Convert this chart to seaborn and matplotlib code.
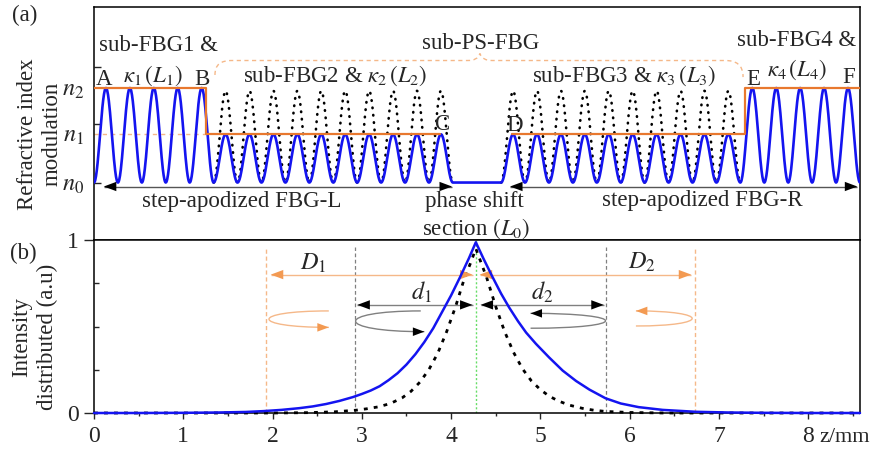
import numpy as np
import pandas as pd
import matplotlib
matplotlib.use("Agg")
import matplotlib.pyplot as plt
import seaborn as sns
from matplotlib.path import Path
from matplotlib.patches import PathPatch

# ---------------- data ----------------
# (a) step-apodized grating description
section_names = ["sub-FBG1", "sub-FBG2", "sub-FBG3", "sub-FBG4"]
section_periods = [5, 10, 10, 5]
section_blue_amp = [1.0, 0.51, 0.51, 1.0]       # apodized modulation (n2, n1, n1, n2)
section_dot_amp = [0.0, 0.97, 0.97, 0.0]        # uniform (unapodized) reference
grating_period = 0.268                          # mm (schematic)
phase_shift_len = 0.54                          # mm
n_levels = [0.0, 0.51, 1.0]
n_labels = [r"$n_0$", r"$n_1$", r"$n_2$"]

orange_left_z = [0.0, 1.254, 1.254, 3.88]
orange_left_n = [1.0, 1.0, 0.51, 0.51]
orange_right_z = [4.685, 7.295, 7.295, 8.58]
orange_right_n = [0.51, 0.51, 1.0, 1.0]

# (b) intensity distribution
blue_z = [0.0, 0.5, 1.0, 1.4, 1.7, 1.9, 2.1, 2.3, 2.45, 2.6, 2.75, 2.9, 3.0, 3.1,
          3.2, 3.3, 3.4, 3.5, 3.6, 3.7, 3.8, 3.9, 4.0, 4.1, 4.2, 4.277,
          4.36, 4.46, 4.56, 4.65, 4.75, 4.84, 4.95, 5.1, 5.25, 5.4, 5.55, 5.73,
          5.9, 6.1, 6.37, 6.74, 7.1, 7.5, 8.0, 8.58]
blue_I = [0.0, 0.0, 0.001, 0.003, 0.006, 0.011, 0.018, 0.028, 0.038, 0.052, 0.07, 0.092, 0.11, 0.13,
          0.155, 0.19, 0.23, 0.28, 0.34, 0.41, 0.49, 0.585, 0.68, 0.785, 0.895, 0.987,
          0.895, 0.79, 0.69, 0.61, 0.53, 0.465, 0.40, 0.32, 0.245, 0.185, 0.135, 0.085,
          0.055, 0.034, 0.018, 0.007, 0.003, 0.001, 0.0, 0.0]
dot_z = [0.0, 1.0, 2.0, 2.4, 2.7, 2.93, 3.05, 3.19, 3.32, 3.45, 3.55, 3.65, 3.75, 3.85,
         3.95, 4.05, 4.15, 4.22, 4.277,
         4.335, 4.40, 4.50, 4.60, 4.70, 4.80, 4.90, 5.0, 5.1, 5.2, 5.32, 5.47, 5.6, 5.73,
         6.0, 6.4, 7.0, 8.58]
dot_I = [0.0, 0.0, 0.0, 0.002, 0.007, 0.016, 0.024, 0.036, 0.055, 0.087, 0.125, 0.178, 0.25, 0.345,
         0.47, 0.615, 0.78, 0.87, 0.95,
         0.87, 0.78, 0.615, 0.47, 0.35, 0.255, 0.185, 0.135, 0.097, 0.07, 0.046, 0.027, 0.016, 0.009,
         0.003, 0.0, 0.0, 0.0]

center_z = 4.277
D_bounds = [1.93, 6.73]
d_bounds = [2.92, 5.73]
x_ticks = [0, 1, 2, 3, 4, 5, 6, 7, 8]

# ---------------- style ----------------
sns.set_theme(style="white")
plt.rcParams["font.family"] = ["Liberation Serif", "DejaVu Serif"]
plt.rcParams["mathtext.fontset"] = "stix"
plt.rcParams["axes.edgecolor"] = "black"
plt.rcParams["axes.linewidth"] = 1.1

BLUE = "#1414F0"
ORANGE = "#E8782E"
LORANGE = "#F5B889"
HORANGE = "#F39A52"
GRAY = "#808080"
FS = 16.5

W, H = 873, 453
fig = plt.figure(figsize=(W / 100, H / 100), dpi=100)
L, R = 94, 860
ax_top = fig.add_axes([L / W, 1 - 240 / H, (R - L) / W, (240 - 7.3) / H])
ax_bot = fig.add_axes([L / W, 1 - 413 / H, (R - L) / W, (413 - 240) / H])
XMAX = 8.58
for ax in (ax_top, ax_bot):
    ax.set_xlim(0, XMAX)
    for s in ax.spines.values():
        s.set_visible(True)
        s.set_color("black")
        s.set_linewidth(1.1)


def arrowhead(ax, tip, dx, color, ms=12, dy=0.0):
    ax.annotate("", xy=tip, xytext=(tip[0] - dx, tip[1] - dy),
                arrowprops=dict(arrowstyle="-|>,head_length=0.75,head_width=0.28",
                                color=color, lw=0, shrinkA=0, shrinkB=0,
                                mutation_scale=ms),
                annotation_clip=False)


def harrow(ax, x0, x1, y, line_color, head_color, lw=1.0, ms=12):
    ax.plot([x0, x1], [y, y], color=line_color, lw=lw, solid_capstyle="butt")
    arrowhead(ax, (x0, y), -0.05, head_color, ms)
    arrowhead(ax, (x1, y), 0.05, head_color, ms)


def loop(ax, start, tip_x, end, line_color, head_color):
    x0, y0 = start
    x3, y3 = end
    xc = (tip_x - 0.125 * (x0 + x3)) / 0.75
    path = Path([start, (xc, y0), (xc, y3), end],
                [Path.MOVETO, Path.CURVE4, Path.CURVE4, Path.CURVE4])
    ax.add_patch(PathPatch(path, fc="none", ec=line_color, lw=1.0))
    arrowhead(ax, end, 0.05 * np.sign(x3 - xc), head_color, ms=11)


# ---------------- (a) refractive index modulation ----------------
starts = []
z_cursor = 0.0
for i, npd in enumerate(section_periods):
    starts.append(z_cursor)
    z_cursor += npd * grating_period
    if i == 1:
        z_cursor += phase_shift_len

blue_parts_z, blue_parts_n = [], []
for i, (s, npd, a) in enumerate(zip(starts, section_periods, section_blue_amp)):
    z = np.linspace(s, s + npd * grating_period, 60 * npd)
    n = a * (1 - np.cos(2 * np.pi * (z - s) / grating_period)) / 2
    blue_parts_z.append(z)
    blue_parts_n.append(n)
    if i == 1:
        blue_parts_z.append(np.array([z[-1], starts[2]]))
        blue_parts_n.append(np.array([0.0, 0.0]))
wave = pd.DataFrame({"z": np.concatenate(blue_parts_z), "n": np.concatenate(blue_parts_n)})

for s, npd, a in zip(starts, section_periods, section_dot_amp):
    if a <= 0:
        continue
    z = np.linspace(s, s + npd * grating_period, 60 * npd)
    n = a * (1 - np.cos(2 * np.pi * (z - s) / grating_period)) / 2
    sns.lineplot(x=z, y=n, ax=ax_top, color="black", lw=1.9, linestyle=(0, (0.2, 2.6)),
                 dash_capstyle="round", estimator=None, sort=False, zorder=2)

sns.lineplot(data=wave, x="z", y="n", ax=ax_top, color=BLUE, lw=1.9,
             estimator=None, sort=False, zorder=3)
sns.lineplot(x=orange_left_z, y=orange_left_n, ax=ax_top, color=ORANGE, lw=1.6,
             estimator=None, sort=False, zorder=4)
sns.lineplot(x=orange_right_z, y=orange_right_n, ax=ax_top, color=ORANGE, lw=1.6,
             estimator=None, sort=False, zorder=4)
ax_top.plot([0, 1.254], [0.51, 0.51], color=LORANGE, lw=1.0, ls=(0, (3, 3)), zorder=1)

ax_top.set_ylim(-0.608, 1.854)
ax_top.set_xticks([])
ax_top.set_xlabel("")
ax_top.set_ylabel("")
ax_top.set_yticks(n_levels)
ax_top.set_yticklabels(n_labels, fontsize=17.5)
ax_top.tick_params(axis="y", which="major", length=0, pad=7)
ax_top.yaxis.remove_overlapping_locs = False
ax_top.set_yticks([0.0, 0.62, 1.22], minor=True)
ax_top.tick_params(axis="y", which="minor", direction="in", length=5, width=1, left=True)

# grating arrows
harrow(ax_top, 0.11, 4.01, -0.042, "#555555", "black")
harrow(ax_top, 4.66, 8.55, -0.042, "#555555", "black")

# dashed brace for sub-PS-FBG
bv = [(1.355, 1.138), (1.355, 1.25), (1.42, 1.291), (1.546, 1.291),
      (4.178, 1.291),
      (4.26, 1.291), (4.30, 1.31), (4.323, 1.365),
      (4.345, 1.31), (4.385, 1.291), (4.469, 1.291),
      (7.068, 1.291),
      (7.19, 1.291), (7.27, 1.25), (7.27, 1.116)]
bc = [Path.MOVETO, Path.CURVE4, Path.CURVE4, Path.CURVE4, Path.LINETO,
      Path.CURVE4, Path.CURVE4, Path.CURVE4, Path.CURVE4, Path.CURVE4, Path.CURVE4,
      Path.LINETO, Path.CURVE4, Path.CURVE4, Path.CURVE4]
ax_top.add_patch(PathPatch(Path(bv, bc), fc="none", ec=LORANGE, lw=1.0, ls=(0, (3, 2.5))))

top_texts = [
    ("sub-FBG1 &", 0.728, 1.455),
    (r"$\kappa_1\,(L_1)$", 0.661, 1.127),
    ("A", 0.112, 1.095),
    ("B", 1.21, 1.095),
    (r"sub-FBG2 & $\kappa_2\,(L_2)$", 2.70, 1.127),
    ("sub-PS-FBG", 4.335, 1.476),
    (r"sub-FBG3 & $\kappa_3\,(L_3)$", 5.936, 1.127),
    ("sub-FBG4 &", 7.874, 1.508),
    (r"$\kappa_4\,(L_4)$", 7.874, 1.19),
    ("E", 7.38, 1.095),
    ("F", 8.456, 1.106),
    ("C", 3.898, 0.619),
    ("D", 4.715, 0.608),
    ("step-apodized FBG-L", 1.658, -0.196),
    ("step-apodized FBG-R", 6.81, -0.185),
    ("phase shift", 4.256, -0.196),
    (r"section $(L_0)$", 4.279, -0.492),
]
for t, x, y in top_texts:
    ax_top.text(x, y, t, ha="center", va="center", fontsize=FS, zorder=6, clip_on=False)

# ---------------- (b) intensity distribution ----------------
for xv in D_bounds:
    ax_bot.plot([xv, xv], [0, 0.96], color=LORANGE, lw=1.0, ls=(0, (3, 2)), zorder=1)
for xv in d_bounds:
    ax_bot.plot([xv, xv], [0, 0.96], color=GRAY, lw=0.9, ls=(0, (3, 2)), zorder=1)
ax_bot.plot([center_z, center_z], [0, 1], color="#66DD66", lw=1.0, ls=(0, (1.5, 1.5)), zorder=1)

sns.lineplot(x=dot_z, y=dot_I, ax=ax_bot, color="black", lw=2.0, linestyle=(0, (1.4, 2.2)),
             estimator=None, sort=False, zorder=3, clip_on=False)
sns.lineplot(x=blue_z, y=blue_I, ax=ax_bot, color=BLUE, lw=1.8,
             estimator=None, sort=False, zorder=4, clip_on=False)

# D and d arrows
harrow(ax_bot, 1.98, 4.24, 0.80, LORANGE, HORANGE)
harrow(ax_bot, 4.32, 6.69, 0.80, LORANGE, HORANGE)
harrow(ax_bot, 2.95, 4.24, 0.625, GRAY, "black")
harrow(ax_bot, 4.33, 5.71, 0.625, GRAY, "black")

loop(ax_bot, (3.66, 0.59), 2.93, (3.70, 0.47), GRAY, "black")
loop(ax_bot, (4.89, 0.49), 5.73, (4.89, 0.576), GRAY, "black")
loop(ax_bot, (2.63, 0.59), 1.96, (2.63, 0.495), LORANGE, HORANGE)
loop(ax_bot, (6.07, 0.503), 6.70, (6.07, 0.59), LORANGE, HORANGE)

bot_texts = [
    (r"$D_1$", 2.453, 0.867),
    (r"$D_2$", 6.138, 0.873),
    (r"$d_1$", 3.67, 0.70),
    (r"$d_2$", 5.015, 0.70),
]
for t, x, y in bot_texts:
    ax_bot.text(x, y, t, ha="center", va="center", fontsize=FS + 1, zorder=6)

ax_bot.set_ylim(0, 1)
ax_bot.set_xlabel("")
ax_bot.set_ylabel("")
ax_bot.set_xticks(x_ticks)
ax_bot.set_xticklabels([str(v) for v in x_ticks], fontsize=17)
ax_bot.set_xticks(np.arange(0.5, 8.6, 1.0), minor=True)
ax_bot.set_yticks([0, 1])
ax_bot.set_yticklabels(["0", "1"], fontsize=17)
ax_bot.set_yticks([0.25, 0.5, 0.75], minor=True)
ax_bot.tick_params(axis="x", which="major", direction="out", length=4.5, width=1, pad=5, bottom=True)
ax_bot.tick_params(axis="x", which="minor", direction="out", length=2.5, width=1, bottom=True)
ax_bot.tick_params(axis="y", which="major", direction="out", length=7, width=1, pad=4, left=True)
ax_bot.tick_params(axis="y", which="minor", direction="in", length=3.5, width=1, left=True)
ax_bot.text(8.41, -0.139, "z/mm", ha="center", va="center", fontsize=16,
            transform=ax_bot.get_xaxis_transform(), clip_on=False)

# figure-level labels
fig.text(25 / W, 1 - 15 / H, "(a)", ha="center", va="center", fontsize=FS)
fig.text(23 / W, 1 - 253 / H, "(b)", ha="center", va="center", fontsize=FS)
fig.text(40 / W, 1 - 134 / H, "Refractive index\nmodulation", rotation=90,
         ha="center", va="center", fontsize=FS, linespacing=1.2)
fig.text(35 / W, 1 - 337 / H, "Intensity\ndistributed (a.u)", rotation=90,
         ha="center", va="center", fontsize=FS, linespacing=1.3)

fig.savefig("out.png", dpi=100)
